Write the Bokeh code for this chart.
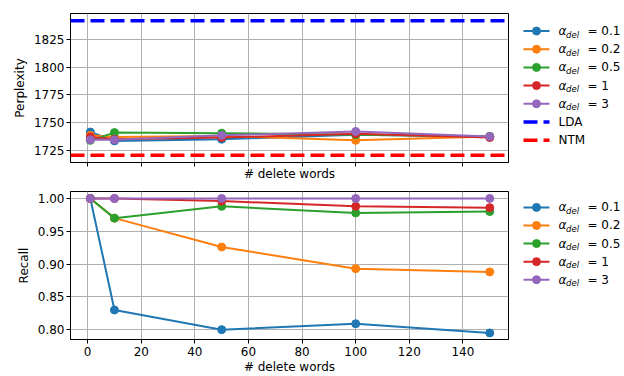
from bokeh.plotting import figure
from bokeh.layouts import column, row
from bokeh.models import Range1d, FixedTicker, Span, NumeralTickFormatter
from bokeh.core.properties import value
from bokeh.embed import file_html
from bokeh.resources import INLINE

# ---------------- data ----------------
delete_words = [1, 10, 50, 100, 150]
alpha_labels = ["0.1", "0.2", "0.5", "1", "3"]
colors = ["#1f77b4", "#ff7f0e", "#2ca02c", "#d62728", "#9467bd"]

perplexity_a01 = [1741.5, 1733.5, 1735.0, 1739.0, 1737.5]
perplexity_a02 = [1738.5, 1737.0, 1738.0, 1734.0, 1737.5]
perplexity_a05 = [1734.0, 1741.0, 1740.5, 1739.0, 1737.5]
perplexity_a1 = [1737.0, 1735.0, 1736.5, 1740.0, 1736.5]
perplexity_a3 = [1734.5, 1734.5, 1738.5, 1742.0, 1737.5]
perplexity_series = [perplexity_a01, perplexity_a02, perplexity_a05, perplexity_a1, perplexity_a3]

lda_perplexity = 1842.0
ntm_perplexity = 1720.5

recall_a01 = [1.000, 0.830, 0.800, 0.809, 0.795]
recall_a02 = [1.000, 0.970, 0.926, 0.893, 0.888]
recall_a05 = [1.000, 0.970, 0.988, 0.978, 0.980]
recall_a1 = [1.000, 1.000, 0.996, 0.988, 0.986]
recall_a3 = [1.000, 1.000, 1.000, 1.000, 1.000]
recall_series = [recall_a01, recall_a02, recall_a05, recall_a1, recall_a3]

x_ticks = [0, 20, 40, 60, 80, 100, 120, 140]
perp_ticks = [1725, 1750, 1775, 1800, 1825]
recall_ticks = [0.80, 0.85, 0.90, 0.95, 1.00]

FONT = "DejaVu Sans"
FS = "12px"
GRID = "#b0b0b0"


def style(p):
    p.background_fill_color = "white"
    p.border_fill_color = "white"
    p.outline_line_color = "black"
    p.outline_line_width = 1
    for ax in p.axis:
        ax.axis_line_color = "black"
        ax.major_tick_line_color = "black"
        ax.major_tick_out = 4
        ax.major_tick_in = 0
        ax.minor_tick_line_color = None
        ax.major_label_text_font = FONT
        ax.major_label_text_font_size = FS
        ax.major_label_text_color = "black"
        ax.axis_label_text_font = FONT
        ax.axis_label_text_font_size = FS
        ax.axis_label_text_font_style = "normal"
        ax.axis_label_text_color = "black"
        ax.major_label_standoff = 2
        ax.axis_label_standoff = 4
    for g in p.grid:
        g.grid_line_color = GRID
        g.grid_line_width = 1


x_range = Range1d(-6.4, 157)

# ---------------- top: perplexity ----------------
top = figure(width=510, height=190, x_range=x_range, y_range=Range1d(1714.0, 1848.5),
             output_backend="svg", toolbar_location=None,
             min_border_left=70, min_border_right=2, min_border_top=13, min_border_bottom=28)
for vals, c in zip(perplexity_series, colors):
    top.line(delete_words, vals, line_color=c, line_width=2)
    top.scatter(delete_words, vals, size=8, fill_color=c, line_color=c)
top.add_layout(Span(location=lda_perplexity, dimension="width", line_color="blue",
                    line_width=3.5, line_dash="14 6"))
top.add_layout(Span(location=ntm_perplexity, dimension="width", line_color="red",
                    line_width=3.5, line_dash="14 6"))
top.xaxis.ticker = FixedTicker(ticks=x_ticks)
top.xaxis.major_label_overrides = {t: "" for t in x_ticks}
top.yaxis.ticker = FixedTicker(ticks=perp_ticks)
top.xaxis.axis_label = "# delete words"
top.yaxis.axis_label = "Perplexity"
style(top)
top.xaxis.major_label_text_font_size = "0px"
top.xaxis.major_label_standoff = 0
top.xaxis.axis_label_standoff = 0

# ---------------- bottom: recall ----------------
bot = figure(width=510, height=186, x_range=x_range, y_range=Range1d(0.785, 1.0106),
             output_backend="svg", toolbar_location=None,
             min_border_left=70, min_border_right=2, min_border_top=1, min_border_bottom=35)
for vals, c in zip(recall_series, colors):
    bot.line(delete_words, vals, line_color=c, line_width=2)
    bot.scatter(delete_words, vals, size=8, fill_color=c, line_color=c)
bot.xaxis.ticker = FixedTicker(ticks=x_ticks)
bot.yaxis.ticker = FixedTicker(ticks=recall_ticks)
bot.yaxis.formatter = NumeralTickFormatter(format="0.00")
bot.xaxis.axis_label = "# delete words"
bot.yaxis.axis_label = "Recall"
style(bot)
bot.xaxis.major_label_standoff = 3
bot.xaxis.axis_label_standoff = 1


# ---------------- legends (side panels, y in window pixels) ----------------
def legend_panel(height, frame_top, frame_bottom, border_top, border_bottom,
                 first_y, step, with_refs):
    lp = figure(width=114, height=height, x_range=Range1d(0, 114),
                y_range=Range1d(frame_bottom, frame_top),
                output_backend="svg", toolbar_location=None,
                x_axis_location=None, y_axis_location=None,
                min_border_left=0, min_border_right=0,
                min_border_top=border_top, min_border_bottom=border_bottom)
    lp.outline_line_color = None
    lp.grid.visible = False
    lp.background_fill_color = "white"
    lp.border_fill_color = "white"
    ys = [first_y + i * step for i in range(len(alpha_labels))]
    for y, c in zip(ys, colors):
        lp.line([13, 39], [y, y], line_color=c, line_width=2)
        lp.scatter([26], [y], size=8, fill_color=c, line_color=c)
    lp.text(x=[48] * len(ys), y=ys, text=["α"] * len(ys), text_font=value(FONT),
            text_font_size=FS, text_font_style="italic", text_baseline="middle", text_color="black")
    lp.text(x=[55.5] * len(ys), y=[y + 3.5 for y in ys], text=["del"] * len(ys),
            text_font=value(FONT), text_font_size="8.5px", text_font_style="italic",
            text_baseline="middle", text_color="black")
    lp.text(x=[77] * len(ys), y=ys, text=["= " + a for a in alpha_labels], text_font=value(FONT),
            text_font_size=FS, text_baseline="middle", text_color="black")
    if with_refs:
        ry = [first_y + (len(alpha_labels) + i) * step for i in range(2)]
        for y, c in zip(ry, ["blue", "red"]):
            lp.line([13, 39], [y, y], line_color=c, line_width=3.5, line_dash="14 6")
        lp.text(x=[48, 48], y=ry, text=["LDA", "NTM"], text_font=value(FONT),
                text_font_size=FS, text_baseline="middle", text_color="black")
    return lp


leg_top = legend_panel(190, 13, 162, 13, 28, 30.5, 18.2, True)
leg_bot = legend_panel(186, 191, 340, 1, 35, 207.0, 18.2, False)

layout = column(row(top, leg_top), row(bot, leg_bot))

open("out.html", "w").write(file_html(layout, INLINE))
